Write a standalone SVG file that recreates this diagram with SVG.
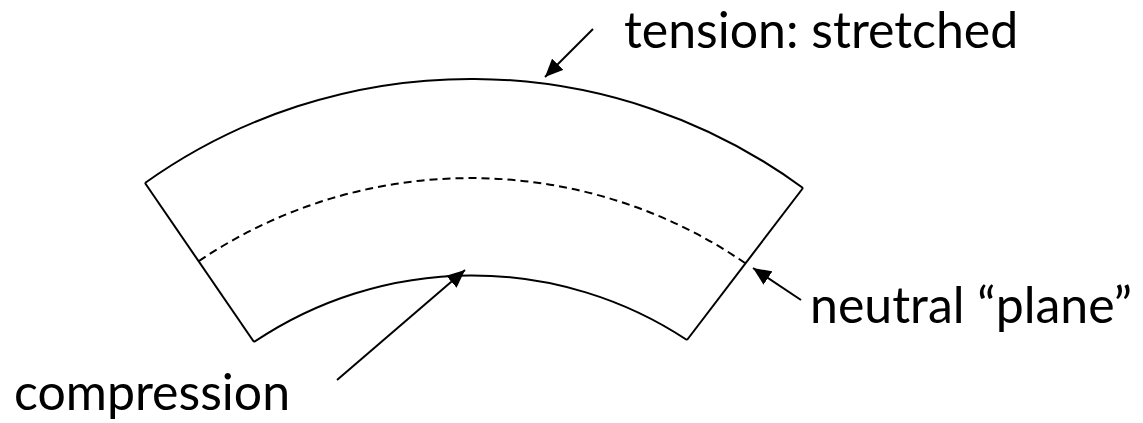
<svg xmlns="http://www.w3.org/2000/svg" width="1143" height="423" viewBox="0 0 1143 423">
<defs>
<style>
.edge{fill:none;stroke:#000;stroke-width:2}
.dash{fill:none;stroke:#000;stroke-width:2;stroke-dasharray:8 5}
.arrow{fill:none;stroke:#000;stroke-width:2}
.lbl{font-family:Lato,"Open Sans","Liberation Sans",sans-serif;font-size:50px;fill:#000}
</style>
<marker id="ah" markerUnits="userSpaceOnUse" markerWidth="20" markerHeight="16" refX="18" refY="8" orient="auto">
<path d="M0,0 L18,8 L0,16 Z" fill="#000"/>
</marker>
</defs>
<rect width="1143" height="423" fill="#fff"/>
<g id="beam">
<path class="edge" d="M145,183 A561,561 0 0 1 803,188"/>
<path class="edge" d="M254,342 A390,390 0 0 1 687,340"/>
<path class="edge" d="M145,183 L254,342"/>
<path class="edge" d="M803,188 L687,340"/>
</g>
<g id="neutral-axis">
<path class="dash" d="M199,261 A486,486 0 0 1 745,263"/>
</g>
<g id="tension">
<text class="lbl" x="624" y="48">tension: stretched</text>
</g>
<g id="neutral">
<text class="lbl" x="810" y="323">neutral “plane”</text>
</g>
<g id="compression">
<text class="lbl" x="14" y="410">compression</text>
</g>
<g id="connectors">
<line class="arrow" x1="593" y1="29" x2="545" y2="77" marker-end="url(#ah)"/>
<line class="arrow" x1="801" y1="300" x2="753" y2="268" marker-end="url(#ah)"/>
<line class="arrow" x1="337" y1="380" x2="465" y2="270" marker-end="url(#ah)"/>
</g>
</svg>
